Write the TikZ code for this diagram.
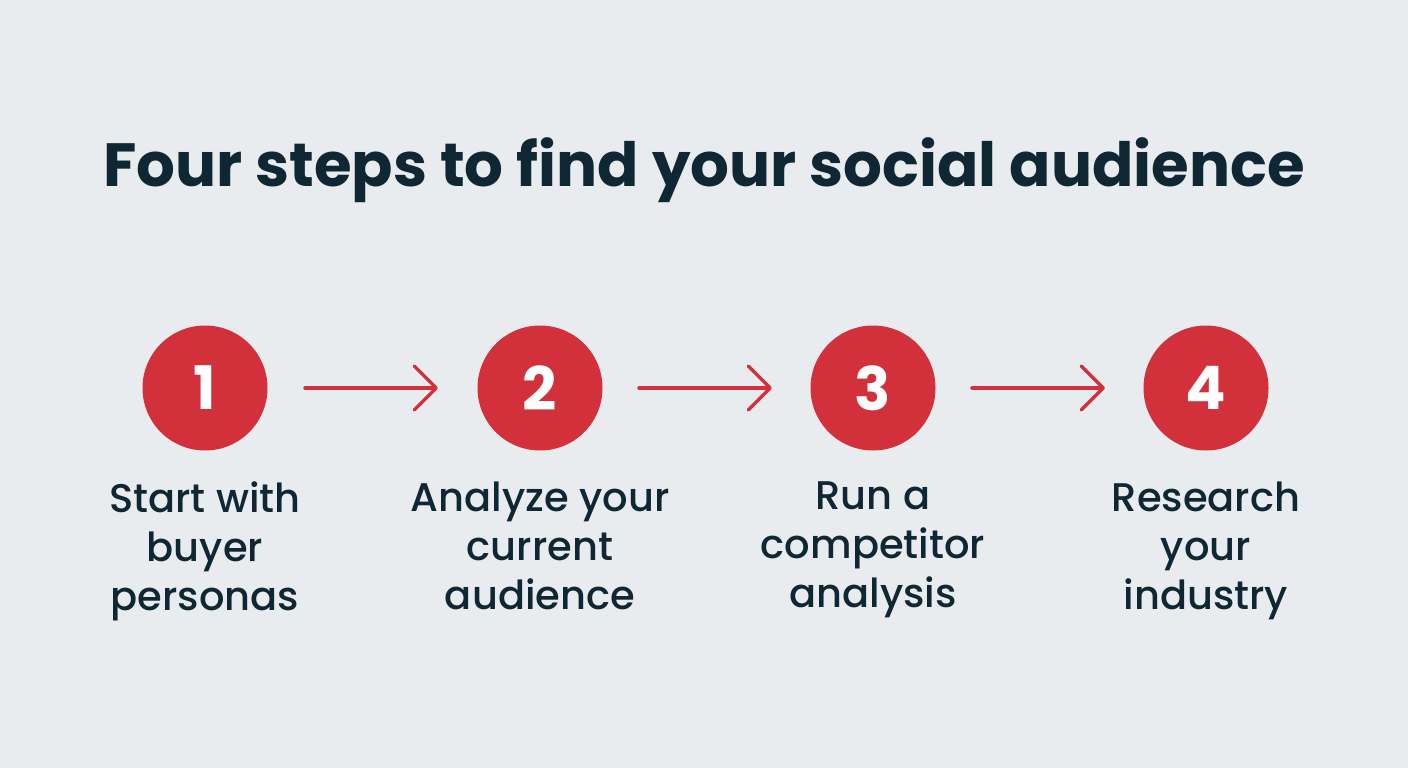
\documentclass[tikz,border=0pt]{standalone}
\usepackage{fontspec}
\setmainfont{Poppins}
\newfontfamily\medfont{Poppins Medium}
\usetikzlibrary{arrows.meta}
\definecolor{bg}{HTML}{E9ECEE}
\definecolor{stepred}{HTML}{D2303A}
\definecolor{ink}{HTML}{0E2733}
\begin{document}
\begin{tikzpicture}[x=1pt,y=-1pt,
  stepcircle/.style={circle,fill=stepred,minimum size=125pt,inner sep=0pt,text=white,font=\fontsize{60}{60}\selectfont\bfseries},
  steplabel/.style={align=center,text=ink,font=\medfont\fontsize{40}{49}\selectfont,anchor=north},
  steparrow/.style={draw=stepred,line width=3.5pt,line cap=round,-{Straight Barb[length=22pt,width=44pt,line width=3.5pt,line cap=round,round]}}]
\fill[bg] (0,0) rectangle (1408,768);
\useasboundingbox (0,0) rectangle (1408,768);
\node[text=ink,font=\fontsize{61}{61}\selectfont\bfseries] (title) at (704,170) {Four steps to find your social audience};
\node[stepcircle] (c1) at (205,388) {1};
\node[stepcircle] (c2) at (540,388) {2};
\node[stepcircle] (c3) at (873,388) {3};
\node[stepcircle] (c4) at (1206,388) {4};
\coordinate (a1s) at (305,388); \coordinate (a1e) at (438,388);
\coordinate (a2s) at (639,388); \coordinate (a2e) at (772,388);
\coordinate (a3s) at (972,388); \coordinate (a3e) at (1105,388);
\draw[steparrow] (a1s) -- (a1e);
\draw[steparrow] (a2s) -- (a2e);
\draw[steparrow] (a3s) -- (a3e);
\node[steplabel] (l1) at (205,478) {Start with\\buyer\\personas};
\node[steplabel] (l2) at (540,478) {Analyze your\\current\\audience};
\node[steplabel] (l3) at (873,478) {Run a\\competitor\\analysis};
\node[steplabel] (l4) at (1206,478) {Research\\your\\industry};
\end{tikzpicture}
\end{document}
